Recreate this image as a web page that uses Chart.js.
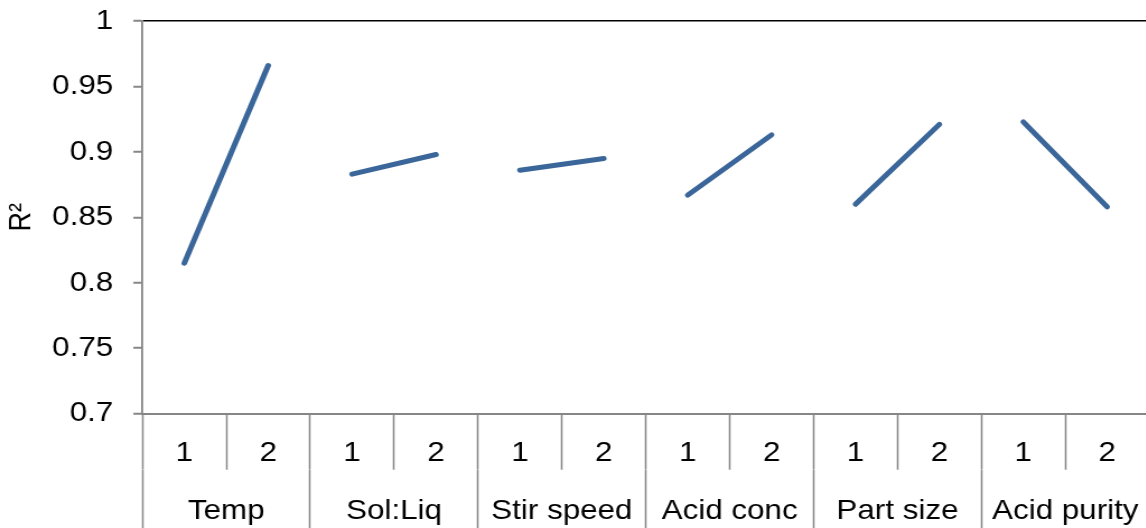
<!DOCTYPE html>
<html>
<head>
<meta charset="utf-8">
<script src="https://cdn.jsdelivr.net/npm/chart.js@4/dist/chart.umd.min.js"></script>
<style>
  html, body { margin: 0; padding: 0; background: #fff; overflow: hidden; }
  /* the reference is stretched sideways, so draw narrower and widen it */
  #wrap { width: 1026px; height: 528px; transform: scaleX(1.12); transform-origin: 0 0; }
</style>
</head>
<body>
<div id="wrap"><canvas id="r2Chart" width="1026" height="528"></canvas></div>
<script>
// data
const subLabels = ['1', '2', '1', '2', '1', '2', '1', '2', '1', '2', '1', '2'];
const groups = ['Temp', 'Sol:Liq', 'Stir speed', 'Acid conc', 'Part size', 'Acid purity'];
const r2Values = [0.815, 0.966, 0.883, 0.898, 0.886, 0.895, 0.867, 0.913, 0.860, 0.921, 0.923, 0.858];
const yTicks = [0.7, 0.75, 0.8, 0.85, 0.9, 0.95, 1];

const lineColor = '#3B6699';
const axisGray = '#868686';
const font = { family: "'Liberation Sans', Arial, sans-serif", size: 28 };

new Chart(document.getElementById('r2Chart').getContext('2d'), {
    type: 'line',
    data: {
        labels: subLabels,
        datasets: [{
            label: 'R2',
            data: r2Values,
            borderColor: lineColor,
            borderWidth: 5,
            borderCapStyle: 'round',
            pointRadius: 0,
            fill: false,
            // only join the two levels of the same factor
            segment: {
                borderColor: ctx => ctx.p0DataIndex % 2 === 1 ? 'transparent' : lineColor
            }
        }]
    },
    options: {
        responsive: false,
        animation: false,
        layout: { padding: { top: 21, left: 0, right: 0, bottom: 0 } },
        plugins: { legend: { display: false }, tooltip: { enabled: false } },
        scales: {
            y: {
                min: 0.7,
                max: 1,
                afterBuildTicks: scale => { scale.ticks = yTicks.map(v => ({ value: v })); },
                afterFit: scale => {
                    scale.width = 127.1;
                    scale.paddingTop = 0;
                    scale.paddingBottom = 0;
                },
                ticks: {
                    font: font,
                    color: '#000',
                    padding: 18,
                    callback: v => String(+Number(v).toFixed(2))
                },
                grid: {
                    color: ctx => (ctx.tick && ctx.tick.value === 1) ? '#000' : 'transparent',
                    lineWidth: 1.5,
                    tickLength: 8,
                    tickColor: axisGray,
                    tickWidth: 2
                },
                border: { display: true, color: axisGray, width: 1.8 },
                title: {
                    display: true,
                    text: 'R²',
                    color: '#000',
                    font: { family: font.family, size: 27 },
                    padding: { top: 3, bottom: 0 }
                }
            },
            x: {
                type: 'category',
                offset: true,
                weight: 0,
                afterFit: scale => { scale.height = 56.3; },
                ticks: { font: font, color: '#000', padding: -33, autoSkip: false, maxRotation: 0 },
                grid: {
                    offset: true,
                    drawOnChartArea: false,
                    tickLength: 56,
                    tickColor: axisGray,
                    tickWidth: 1.5
                },
                border: { display: true, color: axisGray, width: 2 }
            },
            x2: {
                type: 'category',
                position: 'bottom',
                labels: groups,
                offset: true,
                weight: 1,
                afterFit: scale => { scale.height = 58; },
                ticks: { font: font, color: '#000', padding: -36, autoSkip: false, maxRotation: 0 },
                grid: {
                    offset: true,
                    drawOnChartArea: false,
                    tickLength: 60,
                    tickColor: axisGray,
                    tickWidth: 1.5
                },
                border: { display: false }
            }
        }
    }
});
</script>
</body>
</html>
